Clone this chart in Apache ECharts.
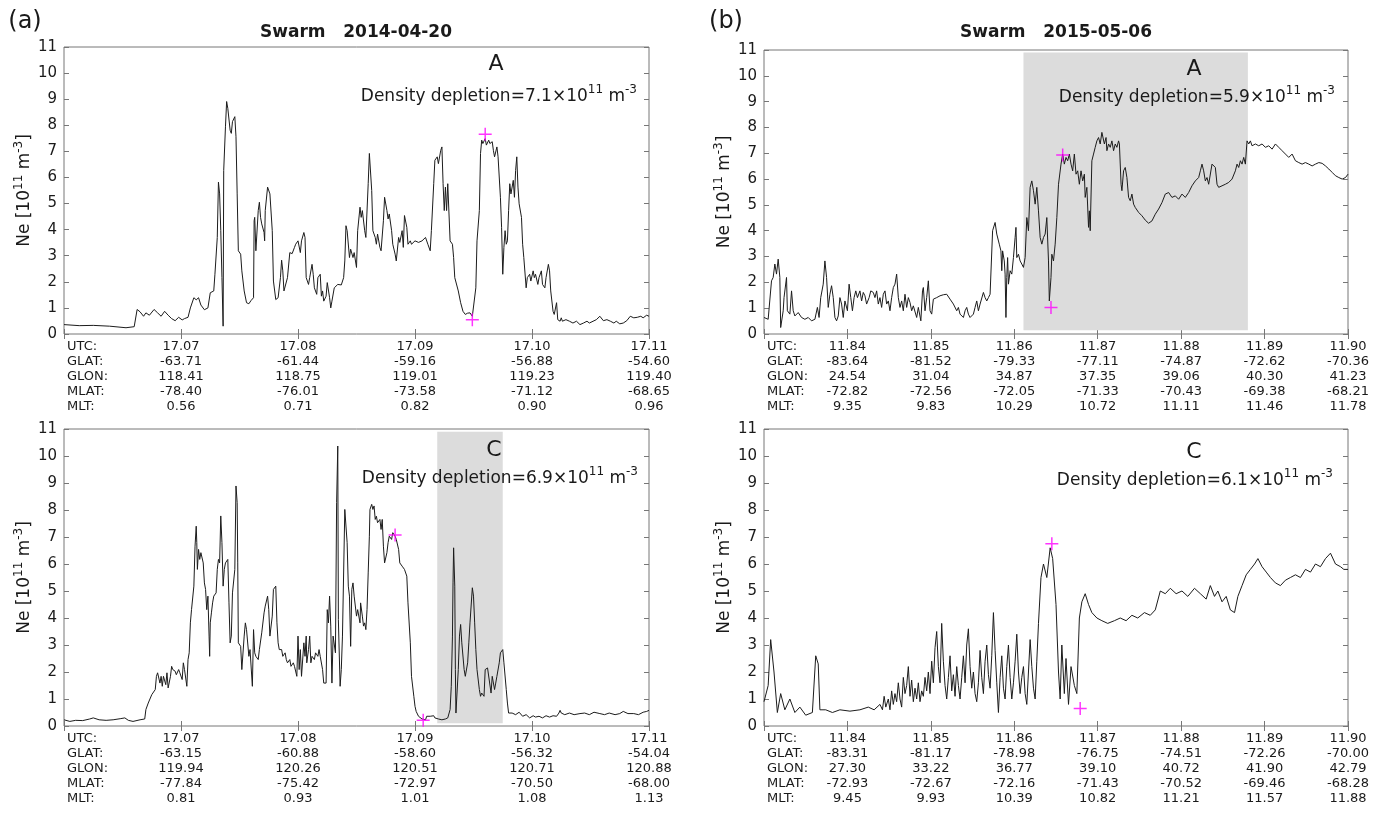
<!DOCTYPE html>
<html><head><meta charset="utf-8">
<script src="https://cdn.jsdelivr.net/npm/echarts/dist/echarts.min.js"></script>
<style>html,body{margin:0;padding:0;background:#fff}#c{width:1380px;height:814px}</style>
</head><body><div id="c"></div>
<script>
// ---------------- DATA ----------------
// tick-table labels
const utcA = ['17.07','17.08','17.09','17.10','17.11'];
const glatA1 = ['-63.71','-61.44','-59.16','-56.88','-54.60'];
const glonA1 = ['118.41','118.75','119.01','119.23','119.40'];
const mlatA1 = ['-78.40','-76.01','-73.58','-71.12','-68.65'];
const mltA1 = ['0.56','0.71','0.82','0.90','0.96'];
const glatA2 = ['-63.15','-60.88','-58.60','-56.32','-54.04'];
const glonA2 = ['119.94','120.26','120.51','120.71','120.88'];
const mlatA2 = ['-77.84','-75.42','-72.97','-70.50','-68.00'];
const mltA2 = ['0.81','0.93','1.01','1.08','1.13'];
const utcB = ['11.84','11.85','11.86','11.87','11.88','11.89','11.90'];
const glatB1 = ['-83.64','-81.52','-79.33','-77.11','-74.87','-72.62','-70.36'];
const glonB1 = ['24.54','31.04','34.87','37.35','39.06','40.30','41.23'];
const mlatB1 = ['-72.82','-72.56','-72.05','-71.33','-70.43','-69.38','-68.21'];
const mltB1 = ['9.35','9.83','10.29','10.72','11.11','11.46','11.78'];
const glatB2 = ['-83.31','-81.17','-78.98','-76.75','-74.51','-72.26','-70.00'];
const glonB2 = ['27.30','33.22','36.77','39.10','40.72','41.90','42.79'];
const mlatB2 = ['-72.93','-72.67','-72.16','-71.43','-70.52','-69.46','-68.28'];
const mltB2 = ['9.45','9.93','10.39','10.82','11.21','11.57','11.88'];

// Ne series: [UTC hour, Ne (1e11 m^-3)]
const neA1 = [[17.0600,0.36],[17.0613,0.32],[17.0625,0.33],[17.0639,0.30],[17.0653,0.24],[17.0660,0.28],[17.06625,0.94],[17.0665,0.85],[17.0668,0.68],[17.0670,0.81],[17.0673,0.72],[17.0677,0.94],[17.0680,0.81],[17.0683,0.68],[17.0686,0.87],[17.0689,0.72],[17.0692,0.59],[17.0695,0.51],[17.0698,0.64],[17.0701,0.54],[17.0703,0.59],[17.0706,0.64],[17.0708,1.00],[17.0711,1.39],[17.0713,1.31],[17.0715,1.39],[17.0717,1.11],[17.0720,0.93],[17.0723,1.00],[17.0724,1.05],[17.0725,1.58],[17.0728,1.65],[17.0729,2.29],[17.0731,3.70],[17.0732,5.82],[17.0733,5.37],[17.0734,3.96],[17.0735,2.16],[17.0736,0.30],[17.07365,6.27],[17.0738,7.94],[17.0739,8.91],[17.0740,8.65],[17.0742,7.81],[17.0743,7.69],[17.0744,8.14],[17.0746,8.33],[17.0747,7.56],[17.0748,5.37],[17.0749,3.19],[17.0751,3.06],[17.0752,2.42],[17.0754,1.65],[17.0756,1.20],[17.0758,1.16],[17.0760,1.29],[17.0762,1.39],[17.07625,4.34],[17.0763,4.47],[17.0764,3.19],[17.0766,4.73],[17.0767,5.05],[17.0768,4.47],[17.0769,4.22],[17.0771,3.89],[17.07715,3.57],[17.0772,4.73],[17.0774,5.63],[17.0776,5.37],[17.0778,3.96],[17.0779,2.03],[17.0781,1.32],[17.0783,1.39],[17.0785,2.16],[17.0786,2.83],[17.0787,2.42],[17.0788,1.65],[17.0789,1.58],[17.0791,2.16],[17.0793,3.12],[17.0795,3.08],[17.0797,3.32],[17.0798,3.44],[17.0800,3.57],[17.0802,3.12],[17.0803,3.57],[17.0805,3.89],[17.0806,3.70],[17.0807,2.16],[17.0809,1.90],[17.0810,2.16],[17.0812,2.67],[17.0813,2.29],[17.0814,1.77],[17.0816,1.52],[17.0817,2.16],[17.0819,2.29],[17.0820,1.45],[17.0821,1.65],[17.0822,1.26],[17.0824,1.45],[17.0825,1.97],[17.0827,1.39],[17.0828,1.00],[17.0829,1.26],[17.0831,1.77],[17.0832,1.84],[17.0834,1.90],[17.0837,1.88],[17.0839,2.16],[17.0840,2.80],[17.0841,4.15],[17.0842,3.96],[17.0844,2.93],[17.0845,3.25],[17.0847,2.93],[17.0848,3.12],[17.0850,2.55],[17.0851,3.96],[17.0853,4.86],[17.0854,4.47],[17.0855,4.73],[17.0857,3.96],[17.0858,3.70],[17.0860,5.76],[17.0861,6.92],[17.0863,5.50],[17.0864,3.96],[17.0866,3.70],[17.0867,3.44],[17.0868,3.83],[17.0870,3.32],[17.0871,3.19],[17.0873,4.34],[17.0874,5.24],[17.0876,4.73],[17.0877,4.41],[17.0878,4.60],[17.0880,3.96],[17.0881,3.44],[17.0883,3.06],[17.0884,2.80],[17.0886,3.70],[17.0887,3.51],[17.0889,3.96],[17.0890,3.32],[17.0891,4.54],[17.0893,4.09],[17.0894,3.44],[17.0896,3.57],[17.0897,3.44],[17.0900,3.57],[17.0903,3.51],[17.0906,3.57],[17.0909,3.70],[17.0910,3.77],[17.0911,3.44],[17.0913,3.19],[17.0914,3.96],[17.0916,5.76],[17.0917,6.66],[17.0919,6.79],[17.0920,6.53],[17.0922,7.04],[17.0923,7.17],[17.0924,5.76],[17.0925,4.73],[17.0926,5.63],[17.0927,4.73],[17.0928,5.76],[17.0930,3.57],[17.0932,3.44],[17.0933,2.93],[17.0934,2.16],[17.0937,1.65],[17.0939,1.20],[17.0941,0.87],[17.0943,0.75],[17.0945,0.80],[17.0947,0.81],[17.0949,0.68],[17.0950,0.75],[17.0952,1.77],[17.0953,3.57],[17.0955,4.73],[17.0956,6.92],[17.0957,7.43],[17.0958,7.30],[17.0960,7.49],[17.0961,7.24],[17.0963,7.43],[17.0964,7.30],[17.0966,7.37],[17.0967,7.04],[17.0968,6.79],[17.0970,7.17],[17.0971,6.79],[17.0973,5.24],[17.0974,4.09],[17.0975,2.29],[17.0976,3.32],[17.0977,3.96],[17.0978,3.44],[17.0979,3.57],[17.0980,4.73],[17.0981,5.76],[17.0982,5.37],[17.0984,5.89],[17.0985,5.24],[17.0986,6.27],[17.0987,6.79],[17.0988,5.63],[17.0989,4.99],[17.0991,4.47],[17.0992,3.44],[17.0993,2.93],[17.0995,1.77],[17.0996,2.16],[17.0998,2.29],[17.0999,2.03],[17.1001,2.42],[17.1002,2.16],[17.1003,2.29],[17.1005,1.90],[17.1006,2.16],[17.1008,2.42],[17.1009,1.90],[17.1011,1.77],[17.1012,2.16],[17.1014,2.67],[17.1015,2.42],[17.1016,1.65],[17.1018,0.87],[17.1019,0.75],[17.1021,1.20],[17.1022,0.55],[17.1024,0.49],[17.1025,0.62],[17.1026,0.49],[17.1029,0.55],[17.1032,0.49],[17.1035,0.42],[17.1038,0.49],[17.1041,0.36],[17.1044,0.42],[17.1047,0.49],[17.1049,0.42],[17.1055,0.55],[17.1058,0.68],[17.1061,0.51],[17.1064,0.55],[17.1067,0.49],[17.1070,0.42],[17.1072,0.49],[17.1075,0.39],[17.1078,0.42],[17.1081,0.51],[17.1084,0.68],[17.1087,0.62],[17.1090,0.64],[17.1093,0.68],[17.1095,0.62],[17.1098,0.72],[17.1100,0.68]];

const neA2 = [[17.0600,0.23],[17.0605,0.17],[17.0610,0.21],[17.0616,0.20],[17.0622,0.26],[17.0625,0.30],[17.0630,0.23],[17.0636,0.21],[17.0642,0.23],[17.0648,0.27],[17.0652,0.30],[17.0655,0.21],[17.0659,0.17],[17.0665,0.23],[17.0669,0.26],[17.0670,0.61],[17.0672,0.85],[17.0673,0.91],[17.0675,1.16],[17.0676,1.22],[17.0678,1.35],[17.0679,1.84],[17.0680,1.97],[17.0682,1.59],[17.0683,1.84],[17.0684,1.47],[17.0685,1.84],[17.0687,1.53],[17.0688,1.97],[17.0689,1.41],[17.0691,1.84],[17.0692,2.21],[17.0693,2.09],[17.0695,2.03],[17.0696,1.90],[17.0698,2.09],[17.0699,1.97],[17.0701,1.72],[17.0702,2.34],[17.0703,2.09],[17.0705,1.47],[17.0706,2.46],[17.0707,2.71],[17.0708,3.82],[17.0709,4.31],[17.0711,5.18],[17.0712,6.66],[17.0713,7.40],[17.07135,6.79],[17.0714,5.80],[17.0715,6.54],[17.0716,6.17],[17.0717,6.42],[17.0719,6.04],[17.0720,5.30],[17.0721,5.06],[17.0722,4.31],[17.0723,4.81],[17.0724,3.33],[17.07245,2.58],[17.0725,3.82],[17.0726,4.19],[17.0727,4.56],[17.0728,4.81],[17.0730,4.93],[17.0731,5.80],[17.0732,6.17],[17.0733,6.04],[17.0734,7.78],[17.0735,6.79],[17.0736,5.18],[17.0737,5.80],[17.0738,6.04],[17.0740,6.17],[17.0741,4.56],[17.0742,3.08],[17.0743,3.33],[17.0744,4.93],[17.0746,5.80],[17.0747,8.89],[17.0748,8.27],[17.07485,6.04],[17.0749,3.08],[17.0751,2.95],[17.0752,2.09],[17.0754,3.33],[17.0755,3.82],[17.0756,3.57],[17.0758,2.58],[17.0759,2.83],[17.0761,1.47],[17.0762,3.57],[17.0763,2.71],[17.0764,2.58],[17.0766,2.46],[17.0767,2.83],[17.0769,3.45],[17.0771,4.19],[17.0772,4.44],[17.0774,4.81],[17.0775,4.31],[17.0776,3.33],[17.0778,4.07],[17.0779,5.06],[17.0781,5.18],[17.0782,3.82],[17.0783,3.08],[17.0784,2.83],[17.0786,2.83],[17.0787,2.58],[17.0789,2.71],[17.0790,2.46],[17.0791,2.34],[17.0793,2.46],[17.0794,2.21],[17.0796,2.34],[17.0797,2.21],[17.0799,1.84],[17.0800,3.33],[17.0801,2.09],[17.0802,2.83],[17.0803,1.84],[17.0805,3.08],[17.0806,2.58],[17.0807,3.33],[17.08075,2.34],[17.0809,2.83],[17.0810,3.33],[17.0811,2.34],[17.0812,2.58],[17.0814,2.46],[17.0815,2.71],[17.0817,2.58],[17.0818,2.83],[17.0819,2.58],[17.0821,2.09],[17.0822,1.59],[17.0824,1.59],[17.0825,4.31],[17.0826,3.82],[17.0827,4.81],[17.0828,3.70],[17.0829,1.59],[17.0830,3.33],[17.0832,2.71],[17.0833,8.27],[17.0834,10.37],[17.08345,3.94],[17.0836,1.47],[17.0837,2.09],[17.0838,3.33],[17.0840,8.02],[17.0841,7.96],[17.0842,6.79],[17.0843,5.18],[17.0844,4.81],[17.0845,2.95],[17.0846,5.06],[17.0847,5.30],[17.0848,4.81],[17.0850,4.07],[17.0851,4.31],[17.0853,3.82],[17.08535,4.56],[17.0855,4.07],[17.0856,3.70],[17.0857,3.82],[17.0858,3.57],[17.0859,4.31],[17.0860,5.67],[17.0861,7.03],[17.08615,8.02],[17.0863,8.21],[17.0864,8.02],[17.0865,8.15],[17.0866,7.65],[17.0867,7.77],[17.0868,7.53],[17.0870,7.65],[17.0871,7.28],[17.0872,7.65],[17.0873,6.66],[17.0874,6.04],[17.0876,6.42],[17.0877,6.79],[17.0878,7.03],[17.0880,6.91],[17.0881,7.16],[17.0883,7.03],[17.0884,6.91],[17.0886,6.54],[17.0887,6.04],[17.0889,5.92],[17.0890,5.86],[17.0891,5.80],[17.0893,5.55],[17.0894,4.56],[17.0896,3.08],[17.0897,1.84],[17.0899,1.10],[17.0900,0.73],[17.0901,0.54],[17.0903,0.36],[17.0904,0.30],[17.0906,0.26],[17.0907,0.30],[17.0909,0.23],[17.0910,0.36],[17.0911,0.42],[17.0913,0.36],[17.0914,0.30],[17.0916,0.38],[17.0917,0.30],[17.0920,0.26],[17.0923,0.23],[17.0926,0.26],[17.0928,0.30],[17.0930,0.61],[17.0931,1.47],[17.0932,3.33],[17.09325,5.30],[17.0933,6.60],[17.0934,5.18],[17.09345,2.09],[17.0935,0.48],[17.0936,0.42],[17.0937,2.09],[17.0938,3.33],[17.0939,3.76],[17.0940,3.08],[17.0942,2.09],[17.0943,1.84],[17.0945,2.34],[17.0946,3.08],[17.0947,3.82],[17.0949,5.12],[17.0950,4.81],[17.0951,3.82],[17.0952,2.83],[17.0953,2.09],[17.0955,1.35],[17.0956,1.10],[17.0957,1.22],[17.0959,1.10],[17.0960,2.09],[17.0962,2.15],[17.0963,2.09],[17.0965,1.22],[17.0966,1.84],[17.0968,1.35],[17.0969,1.59],[17.0970,1.84],[17.0972,2.34],[17.0973,2.71],[17.0975,2.83],[17.0976,2.34],[17.0978,1.35],[17.0979,0.85],[17.0980,0.48],[17.0983,0.48],[17.0986,0.42],[17.0989,0.51],[17.0992,0.36],[17.0995,0.42],[17.0998,0.30],[17.1001,0.38],[17.1003,0.33],[17.1006,0.36],[17.1009,0.30],[17.1012,0.38],[17.1015,0.33],[17.1018,0.38],[17.1021,0.36],[17.1023,0.48],[17.1024,0.58],[17.1025,0.48],[17.1028,0.42],[17.1032,0.48],[17.1036,0.42],[17.1041,0.46],[17.1045,0.48],[17.1049,0.42],[17.1053,0.51],[17.1058,0.46],[17.1062,0.42],[17.1066,0.48],[17.1071,0.42],[17.1075,0.46],[17.1078,0.54],[17.1082,0.46],[17.1087,0.46],[17.1091,0.42],[17.1095,0.51],[17.1098,0.54],[17.1100,0.58]];

const neB1 = [[11.8300,0.64],[11.8305,0.57],[11.8309,2.06],[11.8311,2.19],[11.8313,2.71],[11.8315,2.32],[11.8317,2.90],[11.8319,2.19],[11.8320,0.25],[11.8323,0.90],[11.8324,1.41],[11.8327,2.19],[11.8328,0.90],[11.8331,0.77],[11.8333,1.67],[11.8335,0.90],[11.8337,0.70],[11.8341,0.83],[11.8345,0.64],[11.8349,0.57],[11.8353,0.64],[11.8357,0.51],[11.8361,0.57],[11.8364,1.03],[11.8366,0.64],[11.8368,1.41],[11.8371,1.93],[11.8373,2.83],[11.8375,2.19],[11.8377,1.03],[11.8379,1.54],[11.8381,1.87],[11.8383,1.41],[11.8385,0.64],[11.8387,0.51],[11.8389,0.70],[11.8391,1.41],[11.8393,1.16],[11.8395,0.64],[11.8397,1.28],[11.8400,0.90],[11.8402,1.93],[11.8404,1.41],[11.8406,0.90],[11.8408,1.41],[11.8410,1.67],[11.8412,1.41],[11.8415,1.67],[11.8417,1.28],[11.8419,1.61],[11.8421,1.48],[11.8423,1.16],[11.8426,1.41],[11.8428,1.67],[11.8431,1.61],[11.8433,1.41],[11.8435,1.67],[11.8437,1.16],[11.8439,1.41],[11.8441,1.03],[11.8443,1.54],[11.8445,1.67],[11.8447,1.16],[11.8449,1.28],[11.8451,0.90],[11.8453,1.41],[11.8455,1.80],[11.8457,1.93],[11.8459,2.32],[11.8461,1.41],[11.8463,1.03],[11.8465,1.28],[11.8467,0.90],[11.8469,1.54],[11.8471,1.03],[11.8473,1.41],[11.8475,1.22],[11.8477,0.90],[11.8479,1.09],[11.8481,1.16],[11.8483,0.64],[11.8485,1.03],[11.8488,0.51],[11.8490,1.67],[11.8491,1.80],[11.8493,0.90],[11.8495,1.41],[11.8497,2.06],[11.8499,0.90],[11.8501,0.77],[11.8503,1.35],[11.8505,1.28],[11.8507,1.41],[11.8511,1.48],[11.8515,1.52],[11.8519,1.54],[11.8523,1.35],[11.8527,1.16],[11.8529,1.22],[11.8531,0.90],[11.8533,1.03],[11.8535,0.77],[11.8537,0.70],[11.8539,0.64],[11.8541,0.90],[11.8543,1.03],[11.8545,0.77],[11.8547,0.64],[11.8549,0.57],[11.8551,0.77],[11.8553,1.03],[11.8555,1.28],[11.8557,0.90],[11.8559,1.16],[11.8561,1.22],[11.8563,1.61],[11.8565,1.41],[11.8567,1.28],[11.8569,1.41],[11.8571,1.54],[11.8573,1.48],[11.8574,4.00],[11.8576,4.06],[11.8577,4.32],[11.8579,3.87],[11.8581,3.87],[11.8582,3.48],[11.8584,3.22],[11.8585,2.45],[11.8586,3.22],[11.8588,2.83],[11.8589,2.32],[11.8590,0.64],[11.8591,2.19],[11.8592,2.96],[11.8593,1.93],[11.8595,2.45],[11.8597,2.32],[11.8599,2.96],[11.8601,3.74],[11.8602,4.13],[11.8603,2.96],[11.8605,3.09],[11.8607,2.83],[11.8609,2.71],[11.8611,2.58],[11.8613,2.96],[11.8615,4.51],[11.8617,4.00],[11.8619,5.68],[11.8621,5.93],[11.8623,5.55],[11.8625,5.03],[11.8627,5.68],[11.8629,4.77],[11.8631,3.74],[11.8633,3.48],[11.8635,3.74],[11.8637,3.87],[11.8639,4.51],[11.8641,2.83],[11.8642,1.28],[11.8644,2.19],[11.8645,3.09],[11.8647,2.83],[11.8649,3.48],[11.8651,4.51],[11.8653,5.80],[11.8656,6.58],[11.8658,6.97],[11.8660,6.58],[11.8662,6.84],[11.8664,6.71],[11.8666,6.97],[11.8668,6.58],[11.8670,6.32],[11.8672,6.97],[11.8674,6.19],[11.8676,6.32],[11.8678,5.80],[11.8680,6.32],[11.8682,5.93],[11.8684,6.19],[11.8685,5.29],[11.8687,5.68],[11.8689,4.13],[11.8690,4.77],[11.8691,4.00],[11.8693,6.71],[11.8695,6.97],[11.8697,7.23],[11.8699,7.48],[11.8701,7.61],[11.8703,7.36],[11.8705,7.81],[11.8707,7.87],[11.8708,7.36],[11.8710,7.61],[11.8711,7.10],[11.8713,7.36],[11.8715,7.23],[11.8717,7.48],[11.8719,7.10],[11.8721,7.36],[11.8723,7.23],[11.8725,7.48],[11.8726,7.36],[11.8728,5.80],[11.8729,5.55],[11.8731,6.32],[11.8733,6.45],[11.8735,6.06],[11.8737,5.29],[11.8739,5.16],[11.8741,5.42],[11.8743,5.03],[11.8745,4.90],[11.8749,4.71],[11.8753,4.58],[11.8757,4.41],[11.8761,4.29],[11.8765,4.38],[11.8769,4.64],[11.8773,4.84],[11.8777,5.09],[11.8781,5.42],[11.8785,5.48],[11.8789,5.29],[11.8793,5.35],[11.8797,5.22],[11.8801,5.42],[11.8805,5.29],[11.8809,5.48],[11.8813,5.74],[11.8817,5.93],[11.8821,6.06],[11.8823,6.32],[11.8825,6.58],[11.8827,6.32],[11.8829,5.93],[11.8831,6.06],[11.8833,5.80],[11.8837,6.58],[11.8839,6.64],[11.8841,6.45],[11.8843,5.80],[11.8845,5.68],[11.8849,5.74],[11.8853,5.80],[11.8857,5.87],[11.8861,6.00],[11.8863,6.06],[11.8865,6.32],[11.8867,6.58],[11.8869,6.45],[11.8871,6.71],[11.8873,6.58],[11.8875,6.84],[11.8877,6.58],[11.8879,7.48],[11.8881,7.36],[11.8883,7.48],[11.8885,7.29],[11.8889,7.36],[11.8893,7.29],[11.8897,7.36],[11.8901,7.23],[11.8905,7.29],[11.8909,7.16],[11.8913,7.36],[11.8917,7.23],[11.8921,7.10],[11.8925,6.97],[11.8929,6.84],[11.8933,6.97],[11.8937,6.71],[11.8941,6.64],[11.8945,6.58],[11.8949,6.64],[11.8953,6.58],[11.8957,6.51],[11.8961,6.58],[11.8965,6.64],[11.8969,6.61],[11.8973,6.51],[11.8977,6.39],[11.8981,6.26],[11.8985,6.13],[11.8989,6.06],[11.8993,6.00],[11.8997,6.06],[11.9000,6.19]];

const neB2 = [[11.8300,0.9],[11.8305,1.5],[11.8308,3.2],[11.8312,2.0],[11.8316,0.5],[11.8320,1.2],[11.8325,0.6],[11.8331,1.0],[11.8337,0.5],[11.8343,0.7],[11.8350,0.4],[11.8358,0.5],[11.8362,2.6],[11.8365,2.3],[11.8367,0.6],[11.8374,0.6],[11.8382,0.5],[11.8391,0.6],[11.8403,0.55],[11.8415,0.6],[11.8425,0.7],[11.8432,0.6],[11.8439,0.8],[11.8442,0.6],[11.8444,1.1],[11.8446,0.7],[11.8449,1.0],[11.8451,0.6],[11.8453,1.3],[11.8455,0.8],[11.8457,1.2],[11.8459,0.9],[11.8461,1.6],[11.8463,1.0],[11.8465,0.7],[11.8467,1.8],[11.8469,1.2],[11.8471,1.5],[11.8473,2.2],[11.8475,1.1],[11.8477,1.7],[11.8479,0.9],[11.8481,1.4],[11.8483,1.0],[11.8485,1.6],[11.8487,0.9],[11.8489,1.3],[11.8491,1.1],[11.8493,1.8],[11.8495,1.3],[11.8497,2.0],[11.8499,1.2],[11.8501,2.4],[11.8503,1.6],[11.8505,2.9],[11.8507,3.5],[11.8509,2.2],[11.8511,1.6],[11.8513,3.8],[11.8515,2.4],[11.8517,1.5],[11.8519,1.0],[11.8521,1.8],[11.8523,2.6],[11.8525,1.3],[11.8527,1.9],[11.8529,1.1],[11.8531,2.2],[11.8533,1.5],[11.8535,1.0],[11.8537,1.8],[11.8539,2.6],[11.8541,1.6],[11.8543,3.0],[11.8545,3.6],[11.8547,2.2],[11.8549,1.4],[11.8551,2.0],[11.8553,1.2],[11.8555,0.9],[11.8557,1.6],[11.8559,2.8],[11.8561,1.8],[11.8563,1.2],[11.8565,2.4],[11.8567,3.0],[11.8569,1.9],[11.8571,1.4],[11.8573,2.6],[11.8575,4.2],[11.8577,2.8],[11.8579,1.6],[11.8581,0.5],[11.8583,1.8],[11.8585,2.6],[11.8587,1.4],[11.8589,1.0],[11.8591,2.2],[11.8593,3.0],[11.8595,1.8],[11.8597,1.0],[11.8599,1.6],[11.8601,2.4],[11.8603,3.4],[11.8605,2.0],[11.8607,1.2],[11.8609,1.8],[11.8611,2.2],[11.8613,1.2],[11.8615,0.8],[11.8617,2.0],[11.8619,3.2],[11.8621,2.2],[11.8623,1.4],[11.8625,1.0],[11.8627,2.4],[11.8629,3.8],[11.8632,5.5],[11.8635,6.0],[11.8639,5.5],[11.8643,6.6],[11.8646,6.2],[11.8650,4.5],[11.8653,2.0],[11.8655,1.0],[11.8657,3.0],[11.8660,1.2],[11.8662,2.5],[11.8665,0.8],[11.8668,2.2],[11.8672,1.5],[11.8675,1.2],[11.8678,4.0],[11.8681,4.6],[11.8685,4.9],[11.8689,4.5],[11.8693,4.2],[11.8699,4.0],[11.8705,3.9],[11.8712,3.8],[11.8720,3.9],[11.8727,4.0],[11.8734,3.9],[11.8741,4.1],[11.8748,4.0],[11.8756,4.2],[11.8763,4.1],[11.8769,4.3],[11.8775,5.0],[11.8781,4.9],[11.8787,5.1],[11.8794,4.9],[11.8801,5.0],[11.8808,4.8],[11.8816,5.1],[11.8823,4.9],[11.8830,4.7],[11.8835,5.2],[11.8840,4.8],[11.8844,5.0],[11.8849,4.6],[11.8854,4.8],[11.8859,4.3],[11.8864,4.2],[11.8868,4.8],[11.8873,5.2],[11.8878,5.6],[11.8883,5.8],[11.8888,6.0],[11.8892,6.2],[11.8897,5.9],[11.8902,5.7],[11.8907,5.5],[11.8913,5.3],[11.8919,5.2],[11.8925,5.4],[11.8931,5.5],[11.8937,5.6],[11.8943,5.5],[11.8949,5.8],[11.8955,5.7],[11.8961,6.0],[11.8967,5.9],[11.8973,6.2],[11.8979,6.4],[11.8985,6.0],[11.8991,5.9],[11.8995,5.8],[11.9000,5.8]];

// magenta "+" markers (start/end of depletion)
const markA1 = [[17.0960,7.66],[17.0949,0.55]];
const markA2 = [[17.0883,7.07],[17.0907,0.21]];
const markB1 = [[11.8658,6.93],[11.8644,1.03]];
const markB2 = [[11.8645,6.75],[11.8679,0.65]];

// shaded intervals [x0, x1, y0, y1]
const shadeA2 = [17.0919, 17.0975, 0.1, 10.9];
const shadeB1 = [11.8611, 11.8880, 0.15, 10.9];

// ---------------- CHART ----------------
const FONT = "'DejaVu Sans', 'Liberation Sans', sans-serif";
const TXT = '#1a1a1a';
const FRAME = '#777777';
const HDR = ['UTC:', 'GLAT:', 'GLON:', 'MLAT:', 'MLT:'];

const panels = [
  {grid: {left: 64, top: 47, width: 585, height: 287}, xmin: 17.06, xmax: 17.11, data: neA1, marks: markA1, shade: null, rows: [utcA, glatA1, glonA1, mlatA1, mltA1]},
  {grid: {left: 764, top: 50, width: 584, height: 284}, xmin: 11.83, xmax: 11.90, data: neB1, marks: markB1, shade: shadeB1, rows: [utcB, glatB1, glonB1, mlatB1, mltB1]},
  {grid: {left: 64, top: 429, width: 585, height: 297}, xmin: 17.06, xmax: 17.11, data: neA2, marks: markA2, shade: shadeA2, rows: [utcA, glatA2, glonA2, mlatA2, mltA2]},
  {grid: {left: 764, top: 429, width: 584, height: 297}, xmin: 11.83, xmax: 11.90, data: neB2, marks: markB2, shade: null, rows: [utcB, glatB2, glonB2, mlatB2, mltB2]}
];

const grids = [], xAxes = [], yAxes = [], series = [];
const tickStyle = {inside: true, length: 5, lineStyle: {color: FRAME, width: 1}};
const supRich = {
  n: {fontFamily: FONT, fontSize: 17, color: TXT, lineHeight: 24},
  s: {fontFamily: FONT, fontSize: 12, color: TXT, lineHeight: 12, verticalAlign: 'top'}
};

panels.forEach((p, i) => {
  grids.push(Object.assign({show: true, borderColor: FRAME, borderWidth: 1, backgroundColor: 'transparent', containLabel: false}, p.grid));
  xAxes.push({
    type: 'value', gridIndex: i, min: p.xmin, max: p.xmax, interval: 0.01, position: 'bottom',
    axisLine: {show: false}, axisTick: tickStyle, splitLine: {show: false},
    axisLabel: {
      margin: 5, showMinLabel: true, showMaxLabel: true,
      formatter: (val, idx) => {
        if (idx === 0) return HDR.map(h => '{h|' + h + '}').join('\n');
        const k = idx - 1;
        return p.rows.map(r => '{v|' + (r[k] !== undefined ? r[k] : '') + '}').join('\n');
      },
      rich: {
        h: {fontFamily: FONT, fontSize: 13, lineHeight: 15, color: TXT, width: 44, align: 'left', padding: [0, 0, 0, 50]},
        v: {fontFamily: FONT, fontSize: 13, lineHeight: 15, color: TXT}
      }
    }
  });
  xAxes.push({
    type: 'value', gridIndex: i, min: p.xmin, max: p.xmax, interval: 0.01, position: 'top',
    axisLine: {show: false}, axisTick: tickStyle, splitLine: {show: false}, axisLabel: {show: false}
  });
  yAxes.push({
    type: 'value', gridIndex: i, min: 0, max: 11, interval: 1, position: 'left',
    axisLine: {show: false}, axisTick: tickStyle, splitLine: {show: false},
    axisLabel: {fontFamily: FONT, fontSize: 15, color: TXT, margin: 7},
    name: '{n|Ne [10}{s|11}{n| m}{s|-3}{n|]}', nameLocation: 'middle', nameGap: 27, nameRotate: 90,
    nameTextStyle: {fontFamily: FONT, fontSize: 17, color: TXT, rich: supRich}
  });
  yAxes.push({
    type: 'value', gridIndex: i, min: 0, max: 11, interval: 1, position: 'right',
    axisLine: {show: false}, axisTick: tickStyle, splitLine: {show: false}, axisLabel: {show: false}
  });
  const line = {
    type: 'line', xAxisIndex: 2 * i, yAxisIndex: 2 * i, data: p.data, showSymbol: false, symbol: 'none',
    lineStyle: {color: '#1c1c1c', width: 1}, z: 2, animation: false
  };
  if (p.shade) {
    line.markArea = {
      silent: true, itemStyle: {color: '#dcdcdc', opacity: 1},
      data: [[{xAxis: p.shade[0], yAxis: p.shade[2]}, {xAxis: p.shade[1], yAxis: p.shade[3]}]]
    };
  }
  series.push(line);
  series.push({
    type: 'scatter', xAxisIndex: 2 * i, yAxisIndex: 2 * i, data: p.marks,
    symbol: 'path://M0,6.2H14V7.8H0Z M6.2,0H7.8V14H6.2Z', symbolSize: 13,
    itemStyle: {color: '#ff00ff'}, z: 3, animation: false
  });
});

const annRich = {
  n: {fontFamily: FONT, fontSize: 17, color: TXT, lineHeight: 26},
  s: {fontFamily: FONT, fontSize: 12, color: TXT, lineHeight: 13, verticalAlign: 'top'}
};
function txt(text, x, y, size, bold, align) {
  return {text: text, left: x, top: y, padding: 0, itemGap: 0, textAlign: align || 'center', textVerticalAlign: 'middle',
    textStyle: {fontFamily: FONT, fontSize: size, fontWeight: bold ? 'bold' : 'normal', color: TXT, rich: annRich}};
}
const titles = [
  txt('(a)', 25, 22, 24, false),
  txt('(b)', 726, 22, 24, false),
  txt('Swarm   2014-04-20', 356, 33, 17, true),
  txt('Swarm   2015-05-06', 1056, 33, 17, true),
  txt('A', 496, 64, 22, false),
  txt('A', 1194, 69, 22, false),
  txt('C', 494, 450, 22, false),
  txt('C', 1194, 452, 22, false),
  txt('{n|Density depletion=7.1×10}{s|11}{n| m}{s|-3}', 637, 97, 17, false, 'right'),
  txt('{n|Density depletion=5.9×10}{s|11}{n| m}{s|-3}', 1335, 98, 17, false, 'right'),
  txt('{n|Density depletion=6.9×10}{s|11}{n| m}{s|-3}', 638, 479, 17, false, 'right'),
  txt('{n|Density depletion=6.1×10}{s|11}{n| m}{s|-3}', 1333, 481, 17, false, 'right')
];

const chart = echarts.init(document.getElementById('c'), null, {renderer: 'canvas'});
chart.setOption({
  animation: false,
  backgroundColor: '#ffffff',
  title: titles,
  grid: grids,
  xAxis: xAxes,
  yAxis: yAxes,
  series: series
});
</script>
</body></html>
